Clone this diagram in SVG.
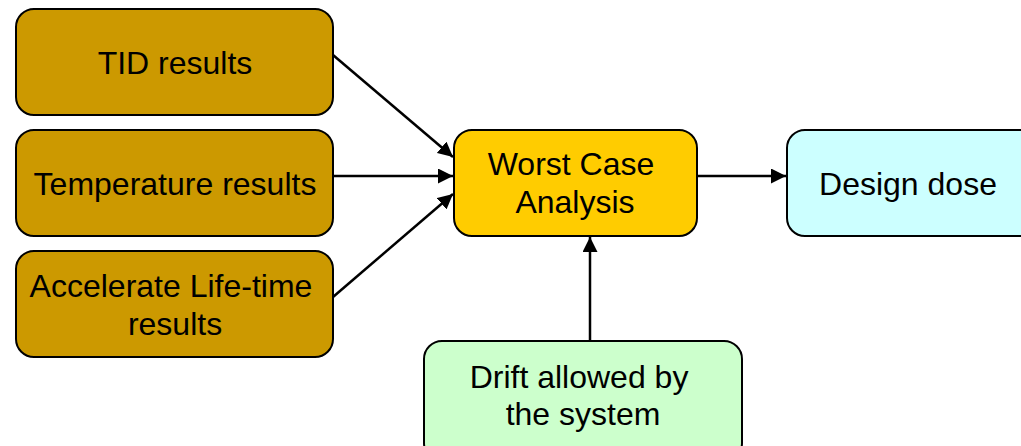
<svg xmlns="http://www.w3.org/2000/svg" width="1021" height="446" viewBox="0 0 1021 446">
<style>
.box{stroke:#000;stroke-width:2}
.t{font-family:"Liberation Sans",Arial,sans-serif;font-size:32px;fill:#000;text-anchor:middle}
.c{stroke:#000;stroke-width:2.5;fill:none}
</style>
<defs>
<marker id="ah" viewBox="0 0 10 10" refX="10" refY="5" markerWidth="6" markerHeight="6" markerUnits="strokeWidth" orient="auto">
<path d="M0,0 L10,5 L0,10 z" fill="#000"/>
</marker>
</defs>
<rect width="1021" height="446" fill="#fff"/>
<g id="connectors">
<line class="c" x1="333" y1="55" x2="453" y2="157" marker-end="url(#ah)"/>
<line class="c" x1="333" y1="176" x2="453" y2="176" marker-end="url(#ah)"/>
<line class="c" x1="333" y1="297" x2="453" y2="194" marker-end="url(#ah)"/>
<line class="c" x1="697" y1="176" x2="786" y2="176" marker-end="url(#ah)"/>
<line class="c" x1="590" y1="341" x2="590" y2="237" marker-end="url(#ah)"/>
</g>
<g id="tid">
<rect class="box" x="16" y="9" width="317" height="106" rx="18" fill="#CC9900"/>
<text class="t" x="175" y="74">TID results</text>
</g>
<g id="temp">
<rect class="box" x="16" y="130" width="317" height="106" rx="18" fill="#CC9900"/>
<text class="t" x="175" y="195">Temperature results</text>
</g>
<g id="alt">
<rect class="box" x="16" y="251" width="317" height="106" rx="18" fill="#CC9900"/>
<text class="t" x="171" y="297">Accelerate Life-time</text>
<text class="t" x="175" y="335">results</text>
</g>
<g id="wca">
<rect class="box" x="454" y="130" width="243" height="106" rx="18" fill="#FFCC00"/>
<text class="t" x="571" y="175">Worst Case</text>
<text class="t" x="575" y="213">Analysis</text>
</g>
<g id="design">
<rect class="box" x="787" y="130" width="250" height="106" rx="18" fill="#CCFFFF"/>
<text class="t" x="908" y="195">Design dose</text>
</g>
<g id="drift">
<rect class="box" x="424" y="341" width="318" height="120" rx="18" fill="#CCFFCC"/>
<text class="t" x="579" y="388">Drift allowed by</text>
<text class="t" x="583" y="425">the system</text>
</g>
</svg>
